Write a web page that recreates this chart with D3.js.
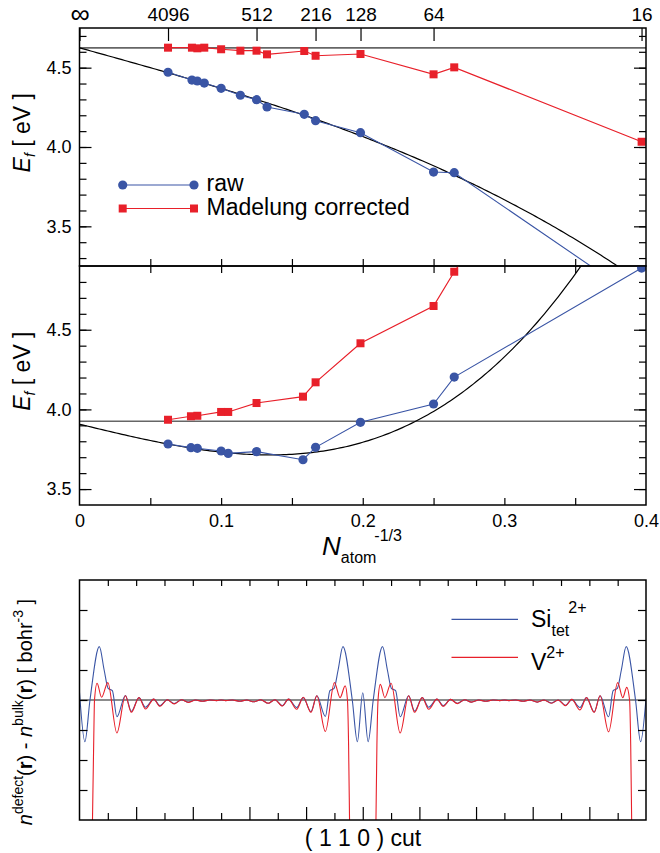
<!DOCTYPE html>
<html>
<head>
<meta charset="utf-8">
<script src="https://cdn.jsdelivr.net/npm/d3@7"></script>
<style>
  body { margin: 0; background: #fff; }
</style>
</head>
<body>
<div id="chart"></div>
<script>
// ---------- data ----------
// upper panel: N_atom^-1/3 and formation energies (eV)
const upperX   = [0.0625, 0.0794, 0.0832, 0.0881, 0.1000, 0.1136, 0.1250, 0.1324, 0.1587, 0.1667, 0.1984, 0.2500, 0.2646, 0.3969];
const upperRaw = [4.471, 4.422, 4.416, 4.403, 4.370, 4.326, 4.298, 4.252, 4.206, 4.166, 4.090, 3.842, 3.838, 3.03];
const upperMad = [4.626, 4.626, 4.622, 4.626, 4.616, 4.607, 4.607, 4.584, 4.605, 4.575, 4.586, 4.458, 4.502, 4.033];
const upperFit = [4.625, -2.48, -7.9];   // a + b*x + c*x^3
const upperRef = 4.625;

// middle panel
const lowerX   = [0.0625, 0.0787, 0.0832, 0.1000, 0.1050, 0.1250, 0.1578, 0.1667, 0.1984, 0.2500, 0.2646, 0.3969];
const lowerRaw = [3.783, 3.760, 3.756, 3.739, 3.724, 3.735, 3.684, 3.762, 3.919, 4.034, 4.203, 4.887];
const lowerMad = [3.935, 3.957, 3.960, 3.984, 3.984, 4.040, 4.080, 4.170, 4.415, 4.649, 4.864, 6.5];
const lowerFit = [3.907, -2.147, 39.5];
const lowerRef = 3.926;

// top axis: supercell sizes
const topN = [4096, 512, 216, 128, 64, 16];
const bottomTicks = [0, 0.1, 0.2, 0.3, 0.4];

// bottom panel: density difference along the (1 1 0) cut, [position, value]
const siTetDensity = [
  [0, 0.25], [0.19, -1.39], [0.37, 0], [0.70, 1.78], [0.87, 1.0], [1.01, 0.39], [1.16, 0.31], [1.32, -0.56],
  [1.62, 0.15], [1.83, -0.38], [2.10, 0.08], [2.33, -0.24], [2.62, 0.03], [2.84, -0.19], [3.10, 0.01],
  [3.34, -0.12], [3.60, 0.01], [3.84, -0.07], [4.10, 0], [4.34, -0.04], [4.60, 0], [4.84, -0.02], [5.0, 0],
  [5.16, -0.02], [5.40, 0], [5.66, -0.04], [5.90, 0], [6.16, -0.06], [6.40, 0.01], [6.66, -0.11], [6.90, 0.01],
  [7.16, -0.19], [7.38, 0.03], [7.67, -0.25], [7.90, 0.08], [8.17, -0.39], [8.38, 0.14], [8.68, -0.55],
  [8.84, 0.31], [8.99, 0.39], [9.13, 1.0], [9.30, 1.78], [9.63, 0], [9.81, -1.39], [10.0, 0.24],
  [10.19, -1.39], [10.37, 0], [10.70, 1.78], [10.87, 1.0], [11.01, 0.39], [11.16, 0.31], [11.32, -0.56],
  [11.62, 0.14], [11.83, -0.37], [12.10, 0.08], [12.33, -0.24], [12.62, 0.03], [12.84, -0.19], [13.10, 0.02],
  [13.34, -0.11], [13.60, 0.01], [13.84, -0.07], [14.10, 0], [14.34, -0.04], [14.60, 0], [14.84, -0.02], [15.0, 0],
  [15.16, -0.02], [15.40, 0], [15.66, -0.04], [15.90, 0], [16.16, -0.07], [16.40, 0], [16.66, -0.10], [16.90, 0],
  [17.16, -0.18], [17.38, 0.02], [17.67, -0.25], [17.90, 0.08], [18.17, -0.40], [18.38, 0.14], [18.68, -0.56],
  [18.84, 0.31], [18.99, 0.39], [19.13, 1.0], [19.30, 1.78], [19.63, 0], [19.81, -1.39], [20.0, 0.05]
];
const vDensity = [
  [0, -30], [0.25, -14], [0.45, -4.5], [0.50, -1.5], [0.53, 0], [0.62, 0.56], [0.78, 0.09], [1.00, 0.58],
  [1.32, -1.10], [1.62, 0.14], [1.83, -0.41], [2.10, 0.08], [2.33, -0.30], [2.62, 0.03], [2.84, -0.21],
  [3.10, 0.01], [3.34, -0.13], [3.60, 0.01], [3.84, -0.08], [4.10, 0], [4.34, -0.04], [4.60, 0], [4.84, -0.02],
  [5.0, 0], [5.16, -0.02], [5.40, 0], [5.66, -0.04], [5.90, 0], [6.16, -0.06], [6.40, 0.01], [6.66, -0.11],
  [6.90, 0.01], [7.16, -0.20], [7.38, 0.03], [7.67, -0.31], [7.90, 0.09], [8.17, -0.41], [8.38, 0.14],
  [8.68, -1.05], [9.00, 0.58], [9.20, 0.08], [9.38, 0.47], [9.46, 0], [9.50, -1.5], [9.54, -4.5], [9.75, -14],
  [10.0, -30], [10.25, -14], [10.46, -4.5], [10.50, -1.5], [10.54, 0], [10.62, 0.52], [10.78, 0.08],
  [11.00, 0.56], [11.32, -1.10], [11.62, 0.14], [11.83, -0.41], [12.10, 0.08], [12.33, -0.31], [12.62, 0.03],
  [12.84, -0.21], [13.10, 0.02], [13.34, -0.12], [13.60, 0.01], [13.84, -0.07], [14.10, 0], [14.34, -0.04],
  [14.60, 0], [14.84, -0.02], [15.0, 0], [15.16, -0.02], [15.40, 0], [15.66, -0.04], [15.90, 0], [16.16, -0.07],
  [16.40, 0], [16.66, -0.11], [16.90, 0], [17.16, -0.19], [17.38, 0.02], [17.67, -0.33], [17.90, 0.08],
  [18.17, -0.41], [18.38, 0.14], [18.68, -1.06], [19.00, 0.58], [19.18, 0.08], [19.32, 0.42], [19.42, 0],
  [19.46, -1.5], [19.50, -4.5], [19.75, -14], [20.0, -30]
];

// ---------- setup ----------
const BLUE = "#3a55a5", RED = "#e8202a", GRAY = "#666";
const FONT = "'Liberation Sans', Arial, Helvetica, sans-serif";

const svg = d3.select("#chart")
  .append("svg")
  .attr("width", 660)
  .attr("height", 853)
  .style("font-family", FONT);

const x  = d3.scaleLinear().domain([0, 0.4]).range([79.5, 646]);
const y1 = d3.scaleLinear().domain([3.25, 4.75]).range([266, 28]);
const y2 = d3.scaleLinear().domain([3.4, 4.9]).range([505, 266]);
const xc = d3.scaleLinear().domain([0, 20]).range([79.5, 646]);
const yc = d3.scaleLinear().domain([-4, 4]).range([820, 580]);

const defs = svg.append("defs");
function addClip(id, xs, ys) {
  defs.append("clipPath").attr("id", id)
    .append("rect")
    .attr("x", xs.range()[0]).attr("y", ys.range()[1])
    .attr("width", xs.range()[1] - xs.range()[0])
    .attr("height", ys.range()[0] - ys.range()[1]);
}
addClip("clip1", x, y1);
addClip("clip2", x, y2);
addClip("clip3", xc, yc);

function styleAxis(g) {
  g.select(".domain").remove();
  g.selectAll(".tick line").attr("stroke", "#000").attr("stroke-width", 1.2);
  g.selectAll(".tick text").attr("fill", "#000").attr("font-size", 18).attr("font-family", FONT);
}

// ---------- energy panels ----------
function energyPanel(yScale, clipId, xs, raw, mad, fit, ref) {
  const body = svg.append("g").attr("clip-path", `url(#${clipId})`);

  body.append("line")
    .attr("x1", x.range()[0]).attr("x2", x.range()[1])
    .attr("y1", yScale(ref)).attr("y2", yScale(ref))
    .attr("stroke", GRAY).attr("stroke-width", 1.6);

  const fitLine = d3.line()
    .x(d => x(d))
    .y(d => yScale(fit[0] + fit[1] * d + fit[2] * d * d * d));
  body.append("path")
    .datum(d3.range(0, 0.4001, 0.002))
    .attr("d", fitLine)
    .attr("fill", "none").attr("stroke", "#000").attr("stroke-width", 1.2);

  const line = d3.line().x((d, i) => x(xs[i])).y(d => yScale(d));
  body.append("path").datum(raw).attr("d", line)
    .attr("fill", "none").attr("stroke", BLUE).attr("stroke-width", 1.1);
  body.append("path").datum(mad).attr("d", line)
    .attr("fill", "none").attr("stroke", RED).attr("stroke-width", 1.2);

  body.selectAll(".raw").data(raw).join("circle")
    .attr("cx", (d, i) => x(xs[i])).attr("cy", d => yScale(d))
    .attr("r", 4.6).attr("fill", BLUE);
  body.selectAll(".mad").data(mad).join("rect")
    .attr("x", (d, i) => x(xs[i]) - 4).attr("y", d => yScale(d) - 4)
    .attr("width", 8).attr("height", 8).attr("fill", RED);

  // y axes, major + minor, inward
  const lo = Math.ceil(yScale.domain()[0] * 10 + 0.01) / 10;
  const minor = d3.range(lo, yScale.domain()[1] - 0.01, 0.1);
  const major = [3.5, 4.0, 4.5];
  svg.append("g").attr("transform", `translate(${x.range()[0]},0)`)
    .call(d3.axisLeft(yScale).tickValues(minor).tickSize(-7).tickFormat(""))
    .call(styleAxis);
  svg.append("g").attr("transform", `translate(${x.range()[0]},0)`)
    .call(d3.axisLeft(yScale).tickValues(major).tickSize(-12).tickPadding(8).tickFormat(d3.format(".1f")))
    .call(styleAxis);
  svg.append("g").attr("transform", `translate(${x.range()[1]},0)`)
    .call(d3.axisRight(yScale).tickValues(minor).tickSize(-7).tickFormat(""))
    .call(styleAxis);
  svg.append("g").attr("transform", `translate(${x.range()[1]},0)`)
    .call(d3.axisRight(yScale).tickValues(major).tickSize(-12).tickFormat(""))
    .call(styleAxis);

  // frame
  svg.append("rect")
    .attr("x", x.range()[0]).attr("y", yScale.range()[1])
    .attr("width", x.range()[1] - x.range()[0])
    .attr("height", yScale.range()[0] - yScale.range()[1])
    .attr("fill", "none").attr("stroke", "#000").attr("stroke-width", 1.5);

  // y label
  const yMid = yScale.range()[1] + (yScale.range()[0] - yScale.range()[1]) * 0.44;
  const lab = svg.append("text")
    .attr("transform", `translate(30,${yMid}) rotate(-90)`)
    .attr("text-anchor", "middle")
    .attr("font-size", 23);
  lab.append("tspan").attr("font-style", "italic").text("E");
  lab.append("tspan").attr("font-style", "italic").attr("font-size", 14).attr("dy", 5).text("f");
  lab.append("tspan").attr("dy", -5).text("  [ eV ]");
}

energyPanel(y1, "clip1", upperX, upperRaw, upperMad, upperFit, upperRef);
energyPanel(y2, "clip2", lowerX, lowerRaw, lowerMad, lowerFit, lowerRef);

// x ticks every 0.05 on panel borders
const xMinor = d3.range(0.05, 0.4, 0.05);
svg.append("g").attr("transform", `translate(0,${y1.range()[0]})`)
  .call(d3.axisBottom(x).tickValues(xMinor).tickSize(-7).tickFormat(""))
  .call(styleAxis);
svg.append("g").attr("transform", `translate(0,${y2.range()[1]})`)
  .call(d3.axisTop(x).tickValues(xMinor).tickSize(-7).tickFormat(""))
  .call(styleAxis);
svg.append("g").attr("transform", `translate(0,${y2.range()[0]})`)
  .call(d3.axisBottom(x).tickValues(xMinor).tickSize(-7).tickFormat(""))
  .call(styleAxis);
svg.append("g").attr("transform", `translate(0,${y2.range()[0]})`)
  .call(d3.axisBottom(x).tickValues(bottomTicks).tickSize(0).tickPadding(9).tickFormat(d => d === 0 ? "0" : d3.format(".1f")(d)))
  .call(styleAxis);

// top axis: N_atom
const topVals = [0].concat(topN.map(n => Math.pow(n, -1 / 3)));
svg.append("g").attr("transform", `translate(0,${y1.range()[1]})`)
  .call(d3.axisTop(x).tickValues(topVals).tickSize(-13).tickPadding(7)
    .tickFormat((d, i) => i === 0 ? "\u221E" : String(topN[i - 1])))
  .call(styleAxis)
  .call(g => g.selectAll(".tick text").attr("font-size", 19))
  .call(g => g.select(".tick text").attr("font-size", 27).attr("dy", "0.08em"));

// x label
const xl = svg.append("text").attr("x", 322).attr("y", 555).attr("font-size", 26);
xl.append("tspan").attr("font-style", "italic").text("N");
xl.append("tspan").attr("font-size", 16).attr("dy", 8).text("atom");
xl.append("tspan").attr("font-size", 16).attr("dx", -2).attr("dy", -22).text("-1/3");

// legend (upper panel)
const legend = [
  { label: "raw", color: BLUE, shape: "circle", y: 185 },
  { label: "Madelung corrected", color: RED, shape: "square", y: 208.5 }
];
legend.forEach(l => {
  svg.append("line").attr("x1", 122.7).attr("x2", 194).attr("y1", l.y).attr("y2", l.y)
    .attr("stroke", l.color).attr("stroke-width", 1.2);
  [122.7, 194].forEach(cx => {
    if (l.shape === "circle") {
      svg.append("circle").attr("cx", cx).attr("cy", l.y).attr("r", 4.6).attr("fill", l.color);
    } else {
      svg.append("rect").attr("x", cx - 4).attr("y", l.y - 4).attr("width", 8).attr("height", 8).attr("fill", l.color);
    }
  });
  svg.append("text").attr("x", 206.5).attr("y", l.y + 6.3).attr("font-size", 23).text(l.label);
});

// ---------- density cut panel ----------
const cut = svg.append("g").attr("clip-path", "url(#clip3)");
cut.append("line")
  .attr("x1", xc.range()[0]).attr("x2", xc.range()[1])
  .attr("y1", yc(0)).attr("y2", yc(0))
  .attr("stroke", GRAY).attr("stroke-width", 1.6);

const cutLine = d3.line().x(d => xc(d[0])).y(d => yc(d[1])).curve(d3.curveMonotoneX);
cut.append("path").datum(siTetDensity).attr("d", cutLine)
  .attr("fill", "none").attr("stroke", BLUE).attr("stroke-width", 1.1);
cut.append("path").datum(vDensity).attr("d", cutLine)
  .attr("fill", "none").attr("stroke", RED).attr("stroke-width", 1.1);

const yTicks3 = [-3, -2, -1, 0, 1, 2, 3];
svg.append("g").attr("transform", `translate(${xc.range()[0]},0)`)
  .call(d3.axisLeft(yc).tickValues(yTicks3).tickSize(-8).tickFormat(""))
  .call(styleAxis);
svg.append("g").attr("transform", `translate(${xc.range()[1]},0)`)
  .call(d3.axisRight(yc).tickValues(yTicks3).tickSize(-8).tickFormat(""))
  .call(styleAxis);
svg.append("g").attr("transform", `translate(0,${yc.range()[1]})`)
  .call(d3.axisTop(xc).tickValues(d3.range(1, 20)).tickSize(-6).tickFormat(""))
  .call(styleAxis);
svg.append("g").attr("transform", `translate(0,${yc.range()[0]})`)
  .call(d3.axisBottom(xc).tickValues(d3.range(1, 20, 2)).tickSize(-7).tickFormat(""))
  .call(styleAxis);
svg.append("g").attr("transform", `translate(0,${yc.range()[0]})`)
  .call(d3.axisBottom(xc).tickValues(d3.range(2, 20, 2)).tickSize(-13).tickFormat(""))
  .call(styleAxis);

svg.append("rect")
  .attr("x", xc.range()[0]).attr("y", yc.range()[1])
  .attr("width", xc.range()[1] - xc.range()[0])
  .attr("height", yc.range()[0] - yc.range()[1])
  .attr("fill", "none").attr("stroke", "#000").attr("stroke-width", 1.5);

// legend (cut panel)
svg.append("line").attr("x1", 451.5).attr("x2", 518).attr("y1", 619.3).attr("y2", 619.3)
  .attr("stroke", BLUE).attr("stroke-width", 1.3);
svg.append("line").attr("x1", 451.5).attr("x2", 518).attr("y1", 657.3).attr("y2", 657.3)
  .attr("stroke", RED).attr("stroke-width", 1.3);
const si = svg.append("text").attr("x", 531).attr("y", 627).attr("font-size", 23);
si.append("tspan").text("Si");
si.append("tspan").attr("font-size", 16).attr("dy", 9).text("tet");
si.append("tspan").attr("font-size", 16).attr("dx", -1).attr("dy", -23).text("2+");
const vl = svg.append("text").attr("x", 531).attr("y", 670).attr("font-size", 23);
vl.append("tspan").text("V");
vl.append("tspan").attr("font-size", 16).attr("dy", -12).text("2+");

// axis labels (cut panel)
svg.append("text").attr("x", 363).attr("y", 846).attr("text-anchor", "middle")
  .attr("font-size", 23).text("( 1 1 0 ) cut");

const cl = svg.append("text")
  .attr("transform", "translate(32,712) rotate(-90)")
  .attr("text-anchor", "middle")
  .attr("font-size", 20);
cl.append("tspan").attr("font-style", "italic").text("n");
cl.append("tspan").attr("font-size", 14).attr("dy", -9).text("defect");
cl.append("tspan").attr("dy", 9).text("(");
cl.append("tspan").attr("font-weight", "bold").text("r");
cl.append("tspan").text(") - ");
cl.append("tspan").attr("font-style", "italic").text("n");
cl.append("tspan").attr("font-size", 14).attr("dy", -9).text("bulk");
cl.append("tspan").attr("dy", 9).text("(");
cl.append("tspan").attr("font-weight", "bold").text("r");
cl.append("tspan").text(")  [ bohr");
cl.append("tspan").attr("font-size", 14).attr("dy", -9).text("-3");
cl.append("tspan").attr("dy", 9).text(" ]");
</script>
</body>
</html>
